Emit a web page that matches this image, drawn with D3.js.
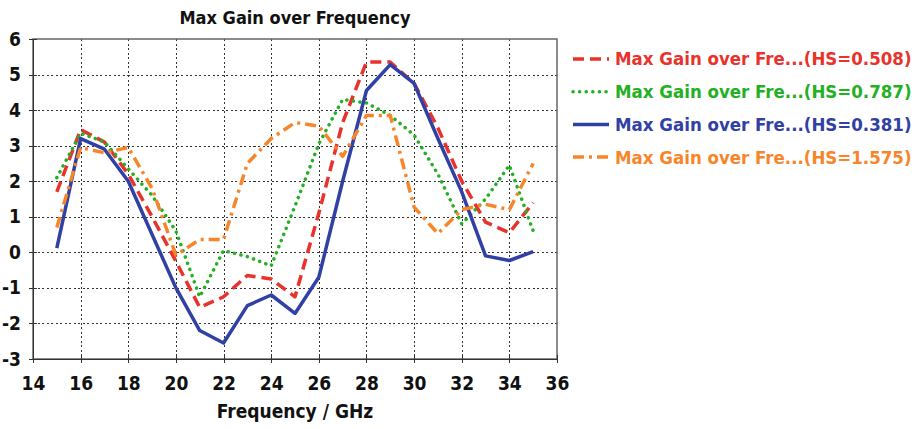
<!DOCTYPE html>
<meta charset="utf-8">
<title>Max Gain over Frequency</title>
<style>
body { margin: 0; background: #fff; }
svg text { font-family: "DejaVu Sans Condensed", "DejaVu Sans", sans-serif; font-weight: bold; }
.grid line { stroke: #333; stroke-width: 1; stroke-dasharray: 2,2.5; shape-rendering: crispEdges; }
.axis path, .axis line { stroke: #333; shape-rendering: crispEdges; }
.axis text { font-size: 19px; fill: #111; }
</style>
<body>
<svg width="916" height="429"></svg>
<script src="https://cdn.jsdelivr.net/npm/d3@7"></script>
<script>

var freq = [15,16,17,18,19,20,21,22,23,24,25,26,27,28,29,30,31,32,33,34,35];
var gain508 = [1.7,3.45,3.1,2.2,1.0,-0.25,-1.55,-1.25,-0.65,-0.75,-1.25,1.1,3.65,5.35,5.35,4.75,3.5,2.0,0.85,0.55,1.4];
var gain787 = [2.1,3.35,3.1,2.35,1.6,0.6,-1.25,0.05,-0.12,-0.38,1.3,3.05,4.3,4.2,3.85,3.3,2.2,0.8,1.5,2.45,0.6];
var gain381 = [0.12,3.2,2.9,2.0,0.5,-1.0,-2.2,-2.55,-1.5,-1.2,-1.72,-0.7,2.0,4.55,5.28,4.75,3.2,1.7,-0.1,-0.23,0.02];
var gain1575 = [0.7,2.95,2.8,2.95,1.8,-0.08,0.36,0.36,2.5,3.2,3.65,3.55,2.7,3.85,3.85,1.27,0.53,1.2,1.35,1.2,2.5];
var seriesNames = ["Max Gain over Fre...(HS=0.508)", "Max Gain over Fre...(HS=0.787)",
                   "Max Gain over Fre...(HS=0.381)", "Max Gain over Fre...(HS=1.575)"];
var xTicks = [14,16,18,20,22,24,26,28,30,32,34,36];
var yTicks = [-3,-2,-1,0,1,2,3,4,5,6];

var series = [
  {name: seriesNames[0], values: gain508, color: "#e8322b", dash: "11,6", cap: "butt"},
  {name: seriesNames[1], values: gain787, color: "#23b023", dash: "0.1,6.5", cap: "round"},
  {name: seriesNames[2], values: gain381, color: "#3140a4", dash: null, cap: "butt"},
  {name: seriesNames[3], values: gain1575, color: "#f7852a", dash: "11,5,3,5", cap: "butt"}
];

var margin = {top: 39, left: 33},
    width = 557 - 33,
    height = 359 - 39;

var svg = d3.select("svg");
var g = svg.append("g").attr("transform", "translate(" + margin.left + "," + margin.top + ")");

var x = d3.scaleLinear().domain([14, 36]).range([0, width]);
var y = d3.scaleLinear().domain([-3, 6]).range([height, 0]);

// plain ascii hyphen like the original, not d3's unicode minus
var plain = function(d) { return String(d); };

// grid
g.append("g").attr("class", "grid")
  .selectAll("line").data(xTicks.slice(1, -1))
  .enter().append("line")
    .attr("x1", function(d) { return Math.round(x(d)) + 0.5; })
    .attr("x2", function(d) { return Math.round(x(d)) + 0.5; })
    .attr("y1", 0).attr("y2", height);
g.append("g").attr("class", "grid")
  .selectAll("line").data(yTicks.slice(1, -1))
  .enter().append("line")
    .attr("y1", function(d) { return Math.round(y(d)) + 0.5; })
    .attr("y2", function(d) { return Math.round(y(d)) + 0.5; })
    .attr("x1", 0).attr("x2", width);

// frame
g.append("rect").attr("width", width).attr("height", height)
  .attr("fill", "none").attr("stroke", "#666").attr("stroke-width", 1.5);

// axes
g.append("g").attr("class", "x axis")
  .attr("transform", "translate(0," + height + ")")
  .call(d3.axisBottom(x).tickValues(xTicks).tickFormat(plain).tickSize(4).tickPadding(14).tickSizeOuter(0))
  .call(function(a) { a.selectAll(".tick line").attr("y1", -4); });
g.append("g").attr("class", "y axis")
  .call(d3.axisLeft(y).tickValues(yTicks).tickFormat(plain).tickSize(4).tickPadding(8).tickSizeOuter(0))
  .call(function(a) { a.selectAll(".tick line").attr("x1", 4); });

var line = d3.line()
  .x(function(d, i) { return x(freq[i]); })
  .y(function(d) { return y(d); });

g.selectAll(".series")
  .data(series)
  .enter().append("path")
    .attr("class", "series")
    .attr("d", function(s) { return line(s.values); })
    .attr("fill", "none")
    .attr("stroke", function(s) { return s.color; })
    .attr("stroke-width", 3.5)
    .attr("stroke-linecap", function(s) { return s.cap; })
    .attr("stroke-linejoin", "round")
    .attr("stroke-dasharray", function(s) { return s.dash; });

// title + axis label
svg.append("text").attr("x", 295).attr("y", 24)
  .attr("text-anchor", "middle").style("font-size", "18px").attr("fill", "#111")
  .text("Max Gain over Frequency");
svg.append("text").attr("x", 295).attr("y", 418)
  .attr("text-anchor", "middle").style("font-size", "19px").attr("fill", "#111")
  .text("Frequency / GHz");

// legend
var legend = svg.selectAll(".legend")
  .data(series)
  .enter().append("g")
    .attr("class", "legend")
    .attr("transform", function(d, i) { return "translate(573," + (59 + i * 32.7) + ")"; });

legend.append("line")
  .attr("x1", 0).attr("x2", 36)
  .attr("stroke", function(s) { return s.color; })
  .attr("stroke-width", 3.5)
  .attr("stroke-linecap", function(s) { return s.cap; })
  .attr("stroke-dasharray", function(s) { return s.dash; });

legend.append("text")
  .attr("x", 42).attr("dy", "0.35em")
  .style("font-size", "18.5px")
  .attr("fill", function(s) { return s.color; })
  .text(function(s) { return s.name; });

</script>
</body>
